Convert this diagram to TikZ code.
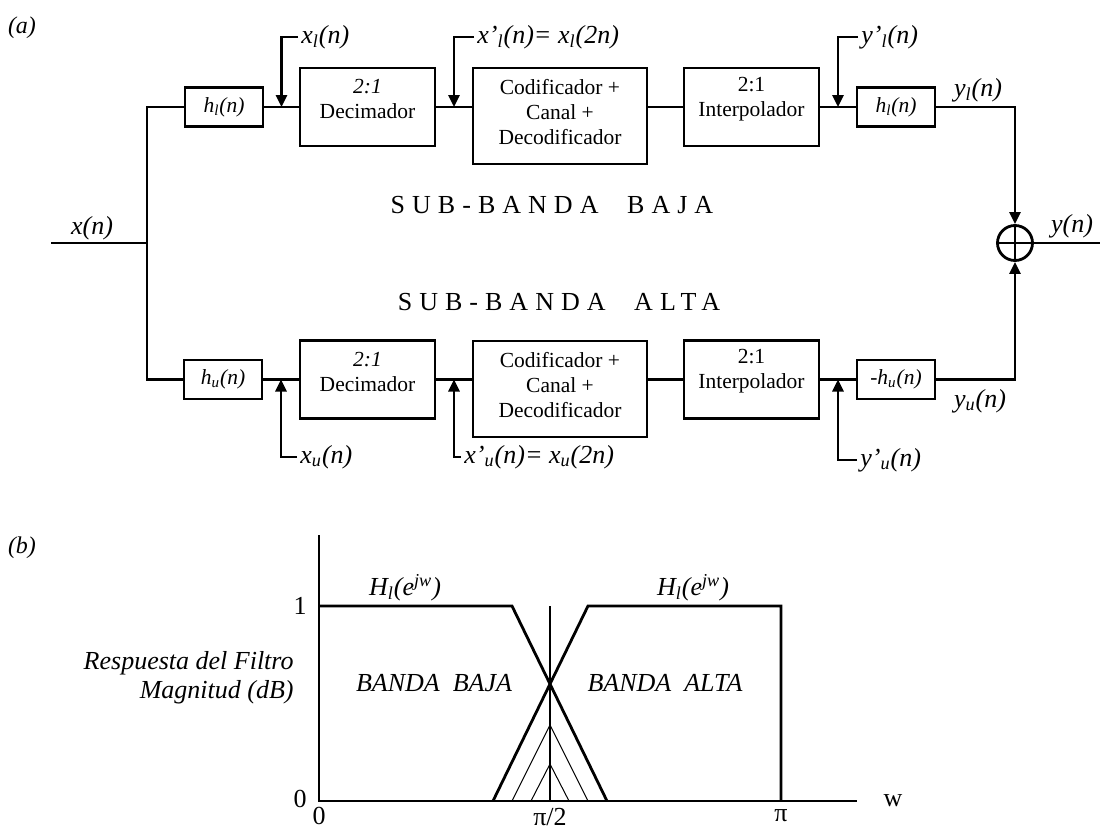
\documentclass[tikz,border=0pt]{standalone}
\usepackage{fontspec}
\setmainfont{Liberation Serif}
\usetikzlibrary{arrows.meta,calc}

\begin{document}
\begin{tikzpicture}[
  x=0.5pt,
  y=-0.5pt,
  line width=1.4pt,
  blk/.style={draw, line width=1.4pt, inner sep=0pt, font=\fontsize{10.75}{12.5}\selectfont},
  filt/.style={blk, minimum width=39pt, minimum height=19.5pt},
  rate/.style={blk, minimum width=67.5pt, minimum height=39pt},
  codec/.style={blk, minimum width=87pt, minimum height=48pt},
  boxtxt/.style={align=center, inner sep=0pt, font=\fontsize{10.75}{12.5}\selectfont},
  sig/.style={-{Triangle[length=6pt,width=5.5pt]}},
  lab/.style={inner sep=1pt, font=\fontsize{13}{15}\selectfont\itshape},
  tag/.style={inner sep=1pt, font=\fontsize{12}{14}\selectfont\itshape},
  num/.style={inner sep=1pt, font=\fontsize{13}{15}\selectfont},
  band/.style={inner sep=0pt, font=\fontsize{13}{15}\selectfont\addfontfeature{LetterSpace=27}},
  thin/.style={line width=0.5pt}
]
\useasboundingbox (0,0) rectangle (1100,830);

\node[tag] (tagA) at (22,28) {(a)};

\node[filt] (hl1) at (224,107) {\textit{h\textsubscript{l}(n)}};
\node[rate] (dec1) at (367.5,107) {};
\node[boxtxt] (dec1t) at ([yshift=4pt]dec1.center) {\textit{2:1}\\Decimador};
\node[codec] (cod1) at (560,116) {};
\node[boxtxt] (cod1t) at ([yshift=2pt]cod1.center) {Codificador +\\Canal +\\Decodificador};
\node[rate] (int1) at (751.5,107) {};
\node[boxtxt] (int1t) at ([yshift=4pt]int1.center) {2:1\\Interpolador};
\node[filt] (hl2) at (896,107) {\textit{h\textsubscript{l}(n)}};

\node[filt] (hu1) at (223,379.5) {\textit{h\textsubscript{u}(n)}};
\node[rate] (dec2) at (367.5,379.5) {};
\node[boxtxt] (dec2t) at ([yshift=4pt]dec2.center) {\textit{2:1}\\Decimador};
\node[codec] (cod2) at (560,389) {};
\node[boxtxt] (cod2t) at ([yshift=2pt]cod2.center) {Codificador +\\Canal +\\Decodificador};
\node[rate] (int2) at (751.5,379.5) {};
\node[boxtxt] (int2t) at ([yshift=4pt]int2.center) {2:1\\Interpolador};
\node[filt] (hu2) at (896,379.5) {\textit{-h\textsubscript{u}(n)}};

\node[draw, circle, minimum size=17.5pt, inner sep=0pt] (sum) at (1015,243) {};
\draw (sum.north) -- (sum.south) (sum.west) -- (sum.east);

\node[lab] (xn) at (92,228) {x(n)};
\node[lab, anchor=west] (xl) at (298,37) {x\textsubscript{l}(n)};
\node[lab, anchor=west] (xl2) at (474,37) {x’\textsubscript{l}(n)= x\textsubscript{l}(2n)};
\node[lab, anchor=west] (yl2) at (858,37) {y’\textsubscript{l}(n)};
\node[lab] (yl) at (978,90) {y\textsubscript{l}(n)};
\node[lab, anchor=west] (xu) at (297,457) {x\textsubscript{u}(n)};
\node[lab, anchor=west] (xu2) at (461,457) {x’\textsubscript{u}(n)= x\textsubscript{u}(2n)};
\node[lab, anchor=west] (yu2) at (857,460) {y’\textsubscript{u}(n)};
\node[lab] (yu) at (980,401) {y\textsubscript{u}(n)};
\node[lab] (yn) at (1072,226) {y(n)};

\node[band] (baja) at (552,205) {SUB-BANDA\hspace{1.1em}BAJA};
\node[band] (alta) at (559,302) {SUB-BANDA\hspace{1.1em}ALTA};

\coordinate (xin) at (51,243);
\coordinate (fork) at (147,243);
\coordinate (yout) at (1100,243);

\draw (xin) -- (fork);
\draw (hl1.west) -| (fork) |- (hu1.west);
\draw (hl1.east) -- (dec1.west);
\draw (dec1.east) -- (dec1.east -| cod1.west);
\draw (int1.west -| cod1.east) -- (int1.west);
\draw (int1.east) -- (hl2.west);
\draw (hu1.east) -- (dec2.west);
\draw (dec2.east) -- (dec2.east -| cod2.west);
\draw (int2.west -| cod2.east) -- (int2.west);
\draw (int2.east) -- (hu2.west);

\draw[sig] (xl.west) -| ($(hl1.east)!.5!(dec1.west)$);
\draw[sig] (xl2.west) -| ($(dec1.east)!.5!(dec1.east -| cod1.west)$);
\draw[sig] (yl2.west) -| ($(int1.east)!.5!(hl2.west)$);
\draw[sig] (xu.west) -| ($(hu1.east)!.5!(dec2.west)$);
\draw[sig] (xu2.west) -| ($(dec2.east)!.5!(dec2.east -| cod2.west)$);
\draw[sig] (yu2.west) -| ($(int2.east)!.5!(hu2.west)$);

\draw[sig] (hl2.east) -| (sum.north);
\draw[sig] (hu2.east) -| (sum.south);
\draw (sum.east) -- (yout);

\node[tag] (tagB) at (22,548) {(b)};

\draw (319,535) -- (319,801) -- (857,801);
\draw (319,606) -- (512,606) -- (607,801);
\draw (493,801) -- (588,606) -- (781,606) -- (781,801);
\draw (550,606) -- (550,801);
\draw[thin] (512,801) -- (550,725) -- (588,801);
\draw[thin] (531,801) -- (550,764) -- (569,801);

\node[num] (one) at (300,606) {1};
\node[num] (zeroy) at (300,799) {0};
\node[num] (zerox) at (319,816) {0};
\node[num] (half) at (550,817) {π/2};
\node[num] (pi) at (781,816) {π};
\node[num] (wax) at (893,801) {w};

\node[lab] (hlo) at (405,588) {H\textsubscript{l}(e\textsuperscript{jw})};
\node[lab] (hhi) at (693,588) {H\textsubscript{l}(e\textsuperscript{jw})};
\node[lab] (bbaja) at (434,683) {BANDA\ \ BAJA};
\node[lab] (balta) at (665,683) {BANDA\ \ ALTA};
\node[lab, align=right, anchor=east, font=\fontsize{13}{14.5}\selectfont\itshape] (resp) at (297,678) {Respuesta del Filtro\\Magnitud (dB)};
\end{tikzpicture}
\end{document}
